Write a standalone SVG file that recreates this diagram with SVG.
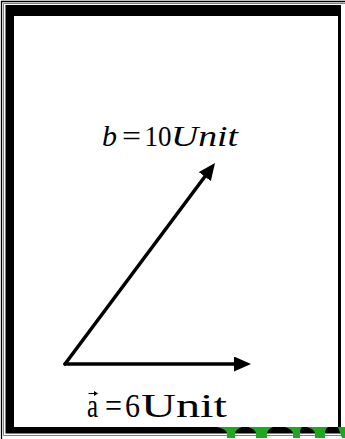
<svg xmlns="http://www.w3.org/2000/svg" width="345" height="439" viewBox="0 0 345 439">
<style>
.t{font-family:"Liberation Serif","Times New Roman",serif;fill:#000}
.it{font-style:italic}
.vec{stroke:#000;stroke-width:3.5;fill:none;stroke-linecap:round}
.g{fill:#1fa81f}
</style>
<defs>
<marker id="ah" viewBox="0 0 17 15" refX="12" refY="7.5" markerWidth="17" markerHeight="15" markerUnits="userSpaceOnUse" orient="auto">
<path d="M0,0 L17,7.5 L0,15 Z" fill="#000"/>
</marker>
</defs>
<rect width="345" height="439" fill="#fff"/>
<g id="frame">
<path d="M1.5,439 V1.5 H345" stroke="#000" stroke-width="1.3" fill="none"/>
<path d="M3.5,435.5 V3.5 H345 M3.5,435.5 H345" stroke="#808080" stroke-width="1" fill="none"/>
<path d="M5.5,5 H341 V433.5 H5.5 Z M14,16 V427 H338 V16 Z" fill="#000" fill-rule="evenodd"/>
</g>
<g id="watermark">
<path class="g" d="M217,427 H242 Q236,429 235,433 V438 H227 V433 Q226,429 217,427 Z"/>
<path class="g" d="M248,427 H273 Q268,429 267,433 V438 H256 V433 Q255,429 248,427 Z"/>
<path class="g" d="M285,427 H302 Q300,429 300,433 V438 H293 V433 Q292,429 285,427 Z"/>
<path class="g" d="M307,427 H328 Q325,429 325,433 V438 H315 V433 Q314,429 307,427 Z"/>
<path class="g" d="M338,427 H345 V438 H342 Z"/>
</g>
<g id="connectors">
<path id="vec-b" class="vec" d="M65,364 L212,167" marker-end="url(#ah)"/>
<path id="vec-a" class="vec" d="M65,364 L246,364" marker-end="url(#ah)"/>
</g>
<g id="label-b">
<text class="t" y="146" font-size="29"><tspan class="it" x="102" textLength="15" lengthAdjust="spacingAndGlyphs">b</tspan><tspan x="122" textLength="19" lengthAdjust="spacingAndGlyphs">=</tspan><tspan x="144.5" textLength="27" lengthAdjust="spacingAndGlyphs">10</tspan><tspan class="it" x="171" textLength="67" lengthAdjust="spacingAndGlyphs">Unit</tspan></text>
</g>
<g id="label-a">
<path d="M88.5,393.5 H96" stroke="#000" stroke-width="1.1"/>
<path d="M94,391 L98,393.5 L94,396 Z" fill="#000"/>
<text class="t" y="417" font-size="33"><tspan x="87" textLength="11" lengthAdjust="spacingAndGlyphs">a</tspan><tspan x="105" textLength="17" lengthAdjust="spacingAndGlyphs">=</tspan><tspan x="125" textLength="15" lengthAdjust="spacingAndGlyphs">6</tspan><tspan x="141" textLength="86" lengthAdjust="spacingAndGlyphs">Unit</tspan></text>
</g>
</svg>
